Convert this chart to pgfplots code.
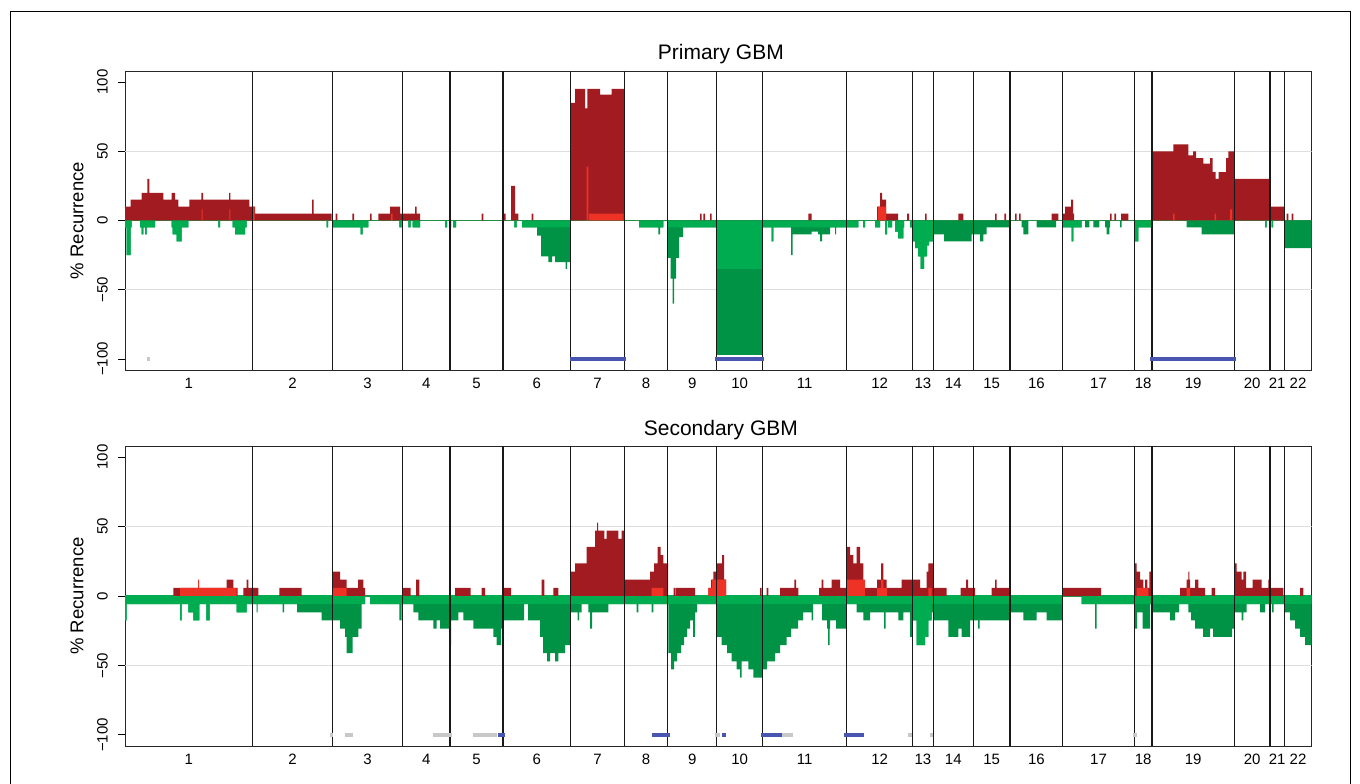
\documentclass[border=0pt]{standalone}
\usepackage{fontspec}
\setmainfont{Liberation Sans}
\usepackage{pgfplots}
\pgfplotsset{compat=1.18}
\definecolor{dred}{RGB}{162,27,32}
\definecolor{lred}{RGB}{238,50,38}
\definecolor{dgreen}{RGB}{0,146,69}
\definecolor{lgreen}{RGB}{0,172,80}
\definecolor{bbar}{RGB}{72,86,178}
\definecolor{gbar}{RGB}{200,200,200}
\definecolor{gridc}{RGB}{222,222,222}
\pgfplotsset{gbm/.style={
  scale only axis, width=1186.7pt, height=299pt,
  xmin=125, xmax=1311.7, ymin=-108, ymax=108,
  axis line style={line width=0.9pt, black!85},
  xtick={188.85,292.5,367.5,426.35,476.5,536.85,597.5,646.05,692.25,739.6,804.6,879.6,922.9,953.3,991.65,1036.35,1098.5,1143.15,1193.15,1252.15,1277.15,1298},
  xticklabels={1,2,3,4,5,6,7,8,9,10,11,12,13,14,15,16,17,18,19,20,21,22},
  xtick style={draw=none},
  ytick={-100,-50,0,50,100}, yticklabels={−100,−50,0,50,100},
  ytick pos=left, xtick pos=bottom, tick align=outside, major tick length=7pt,
  tick style={line width=0.8pt, black},
  tick label style={font=\fontsize{15}{15}\selectfont},
  yticklabel style={rotate=90, anchor=south, inner sep=0pt},
  yticklabel shift=10pt,
  xticklabel style={anchor=north, inner sep=0pt},
  xticklabel shift=1pt,
  ylabel={\% Recurrence},
  ylabel style={at={(axis description cs:-0.0405,0.5)}, anchor=center, font=\fontsize{18.5}{18.5}\selectfont},
  title style={font=\fontsize{21}{21}\selectfont, at={(axis description cs:0.5,1)}, anchor=base, xshift=2.5pt, yshift=6pt},
  unbounded coords=jump,
}}
\begin{document}
\begin{tikzpicture}
\path[use as bounding box] (0,0) rectangle (1360pt,-784pt);
\draw[line width=1pt] (10pt,-790pt) -- (10pt,-12pt) -- (1350pt,-12pt) -- (1350pt,-790pt);
% ---------------- Primary GBM ----------------
\begin{axis}[gbm, at={(125pt,-370pt)}, anchor=south west, title={Primary GBM}]
\addplot[gridc, line width=1pt] coordinates {(125,50)(1311.7,50)(1311.7,nan)(125,-50)(1311.7,-50)};
\addplot[lgreen, line width=1.6pt] coordinates {(125,0)(1311.7,0)};
\addplot[const plot, fill=dred, draw=none] coordinates {(125,0)(125,10)(130.7,15)(141.7,20)(147.3,30)(149.3,20)(163.3,15)(171.7,20)(175,15)(178.3,10)(189.3,15)(201.3,20)(203,15)(229,20)(230.3,15)(249.3,10)(255,5)(312,15)(313.7,5)(331.7,0)(335.7,5)(337.3,0)(352.3,5)(354,0)(370,5)(371.7,0)(378.3,5)(390,10)(400,5)(415,10)(416.7,5)(420,0)(481.7,5)(483.3,0)(504,5)(505.7,0)(511,25)(515,5)(518.3,0)(531.7,5)(533.3,0)(570.7,85)(575,95)(585,81)(587.3,95)(600,91)(611.7,95)(624.3,0)(700,5)(701.7,0)(703.3,5)(705,0)(710,5)(711.7,0)(808.3,5)(811.7,0)(877,10)(880,20)(882,15)(886,5)(898,0)(907,5)(909,0)(925,5)(926.7,0)(958.3,5)(963.3,0)(995,5)(996.7,0)(1004.3,5)(1006,0)(1015,5)(1016.7,0)(1019,5)(1020.7,0)(1051.7,5)(1058.3,0)(1062.7,5)(1065,10)(1071,15)(1073,5)(1074,0)(1110,5)(1111.7,0)(1114.3,5)(1116,0)(1121,5)(1128.3,0)(1152,50)(1173.3,55)(1188.3,47)(1193,50)(1196,45)(1203.3,41)(1210,45)(1212.7,35)(1215.5,30)(1218.5,35)(1226,45)(1228.3,50)(1234.3,30)(1270,10)(1284.3,0)(1286.7,5)(1288.3,0)(1291.7,5)(1293.3,0)(1311.7,0)};
\addplot[const plot, fill=lred, draw=none] coordinates {(125,0)(201.7,8)(202.7,0)(229.3,8)(230.3,0)(252.7,10)(254.5,0)(391,5)(392.5,0)(586.7,39)(588.3,0)(589,5)(623.5,0)(878,10)(886,0)(1173,5)(1174.5,0)(1214.5,5)(1216,0)(1230,8)(1232,0)(1311.7,0)};
\addplot[const plot, fill=dgreen, draw=none] coordinates {(125,0)(125,-5)(126.7,-25)(130.7,-5)(131.7,0)(140,-5)(141.7,-10)(143.3,-5)(145,-10)(146.7,-5)(155,0)(171.7,-5)(172.7,-10)(176.7,-15)(181.7,-5)(188.3,0)(218.3,-5)(220,0)(232.7,-5)(235,-10)(245,-5)(246.7,0)(326.7,-5)(328,0)(332.3,-5)(360.7,-10)(362.7,-5)(368.3,0)(399.3,-5)(401.7,0)(408.3,-5)(410.7,0)(412.7,-5)(420,0)(445,-5)(447,0)(449,-5)(451,0)(453,-5)(456,0)(514.3,-5)(516.7,0)(522,-5)(537,-11)(541,-26)(548.3,-30)(552,-26)(555,-30)(565.5,-35)(567,-30)(570.7,0)(639,-5)(658.3,-10)(660,-5)(663.3,0)(667.3,-27)(670.5,-42)(672.7,-60)(674,-42)(676,-27)(679,-12)(683,-5)(716.7,-97)(762.3,-5)(771.5,-15)(773.3,-5)(791,-25)(792.5,-10)(811.7,-8)(818,-10)(820,-15)(822,-10)(830,-5)(835,-10)(836,-5)(858.3,0)(863,-5)(865,0)(875,-5)(880,0)(885,-10)(887,0)(888,-5)(892,0)(895,-8)(898,-13)(903.3,-5)(904,0)(910,-5)(912.5,-15)(915,-20)(918,-26)(920.5,-35)(924,-26)(927,-18)(929,-15)(933.3,-10)(944,-15)(971.7,-10)(980,-15)(983.3,-10)(986.7,-5)(1009.3,0)(1021.7,-5)(1023.3,-10)(1028.3,0)(1036.7,-5)(1056,0)(1062.7,-5)(1071.7,-15)(1073.3,-5)(1081.7,0)(1085,-5)(1089.3,0)(1093.3,-5)(1099.3,0)(1105,-5)(1106.7,-10)(1109.3,-5)(1110,0)(1120,-5)(1121.7,0)(1134.3,-15)(1138.3,-5)(1151.7,0)(1186.7,-5)(1201.7,-10)(1234.3,0)(1265,-5)(1266.7,0)(1271.7,-5)(1273,0)(1284.3,-20)(1311.7,0)};
\addplot[const plot, fill=lgreen, draw=none] coordinates {(125,0)(125,-5)(126.7,-25)(130.7,-5)(131.7,0)(140,-5)(141.7,-10)(143.3,-5)(145,-10)(146.7,-5)(155,0)(171.7,-5)(172.7,-10)(176.7,-15)(181.7,-5)(188.3,0)(218.3,-5)(220,0)(232.7,-5)(235,-10)(245,-5)(246.7,0)(326.7,-5)(328,0)(332.3,-5)(360.7,-10)(362.7,-5)(368.3,0)(399.3,-5)(401.7,0)(408.3,-5)(410.7,0)(412.7,-5)(420,0)(445,-5)(447,0)(449,-5)(451,0)(453,-5)(456,0)(514.3,-5)(516.7,0)(522,-5)(570.7,0)(639,-5)(663.3,0)(667.3,-5)(716.7,-35)(762.3,-5)(771.5,-15)(773.3,-5)(858.3,0)(863,-5)(865,0)(875,-5)(880,0)(885,-10)(887,0)(888,-5)(892,0)(895,-8)(898,-13)(903.3,-5)(904,0)(910,-5)(912.5,-15)(915,-20)(918,-26)(920.5,-35)(924,-26)(927,-18)(929,-15)(933.3,0)(1062.7,-5)(1071.7,-15)(1073.3,-5)(1081.7,0)(1134.3,-15)(1138.3,-5)(1151.7,0)(1265,-5)(1266.7,0)(1271.7,-5)(1273,0)(1311.7,0)};
\addplot[black!90, line width=1.2pt] coordinates {(252.7,-108)(252.7,108)(252.7,nan)(332.3,-108)(332.3,108)(332.3,nan)(402.7,-108)(402.7,108)(402.7,nan)(450,-108)(450,108)(450,nan)(503,-108)(503,108)(503,nan)(570.7,-108)(570.7,108)(570.7,nan)(624.3,-108)(624.3,108)(624.3,nan)(667.8,-108)(667.8,108)(667.8,nan)(716.7,-108)(716.7,108)(716.7,nan)(762.5,-108)(762.5,108)(762.5,nan)(846.7,-108)(846.7,108)(846.7,nan)(912.5,-108)(912.5,108)(912.5,nan)(933.3,-108)(933.3,108)(933.3,nan)(973.3,-108)(973.3,108)(973.3,nan)(1010,-108)(1010,108)(1010,nan)(1062.7,-108)(1062.7,108)(1062.7,nan)(1134.3,-108)(1134.3,108)(1134.3,nan)(1152,-108)(1152,108)(1152,nan)(1234.3,-108)(1234.3,108)(1234.3,nan)(1270,-108)(1270,108)(1270,nan)(1284.3,-108)(1284.3,108)};
\addplot[gbar, line width=3.5pt] coordinates {(147,-100)(149.5,-100)};
\addplot[bbar, line width=3.5pt] coordinates {(570,-100)(626,-100)(626,nan)(715,-100)(764,-100)(764,nan)(1150,-100)(1236,-100)};
\end{axis}
% ---------------- Secondary GBM ----------------
\begin{axis}[gbm, height=300pt, at={(125pt,-746pt)}, anchor=south west, title={Secondary GBM}, title style={yshift=-1pt}]
\addplot[gridc, line width=1pt] coordinates {(125,50)(1311.7,50)(1311.7,nan)(125,-50)(1311.7,-50)};
\addplot[lgreen, line width=1.6pt] coordinates {(125,0)(1311.7,0)};
\addplot[const plot, fill=dred, draw=none] coordinates {(125,0)(173.3,5.9)(226.7,11.8)(233.3,5.9)(237.5,0)(243.3,5.9)(246.7,11.8)(248.3,5.9)(258.3,0)(279.3,5.9)(301.7,0)(332.3,17.6)(340,11.8)(346.7,5.9)(358,11.8)(363.3,5.9)(365,0)(402.7,5.9)(410.7,0)(416,11.8)(419.3,0)(455,5.9)(470.7,0)(481.7,5.9)(485,0)(503.3,5.9)(511,0)(541.7,11.8)(544.3,0)(553.3,5.9)(558.3,0)(570.7,17.6)(575,23.5)(586.7,35.3)(595,47.1)(597,52.9)(598,47.1)(604.3,41.2)(606.7,47.1)(618.3,41.2)(621.7,47.1)(624.3,11.8)(650,17.6)(654,23.5)(657.7,35.3)(660.7,29.4)(663.3,23.5)(668,0)(673.5,5.9)(675,0)(675.7,5.9)(695,0)(708.3,5.9)(711,11.8)(713.3,17.6)(716.7,23.5)(722,29.4)(724,11.8)(726,0)(760,5.9)(761.7,0)(766.7,5.9)(768.3,0)(780,5.9)(794.3,11.8)(796,5.9)(798.3,0)(819,5.9)(821.7,11.8)(823.3,5.9)(831.7,11.8)(840,5.9)(846.7,35.3)(850,29.4)(853.3,23.5)(856.7,35.3)(860,23.5)(863.3,5.9)(877,11.8)(881,23.5)(883.3,11.8)(886.7,5.9)(901.7,11.8)(920,5.9)(926.7,17.6)(928.3,23.5)(933.3,5.9)(946.7,0)(960.7,5.9)(966,11.8)(968,5.9)(975,0)(991.7,5.9)(995,11.8)(996.7,5.9)(1009.3,0)(1062.7,5.9)(1101,0)(1134.3,23.5)(1136.7,17.6)(1140,11.8)(1143.3,5.9)(1145,11.8)(1147.3,5.9)(1149.3,17.6)(1151.7,0)(1180,5.9)(1186.7,11.8)(1188.3,17.6)(1189.3,11.8)(1190,5.9)(1195,11.8)(1198.3,5.9)(1205,0)(1211.7,5.9)(1215,0)(1234.3,23.5)(1236.7,17.6)(1241.7,11.8)(1243.3,17.6)(1246,5.9)(1252.7,11.8)(1261.7,5.9)(1268.3,11.8)(1270,5.9)(1283.3,0)(1300,5.9)(1303.3,0)(1311.7,0)};
\addplot[const plot, fill=lred, draw=none] coordinates {(125,0)(180,5.9)(198,11.8)(199,5.9)(236.7,0)(332.3,5.9)(346.7,0)(651.7,5.9)(663.3,0)(708.3,5.9)(712,11.8)(726,0)(846.7,11.8)(865,0)(877,5.9)(881,11.8)(883.3,5.9)(887,0)(928.3,5.9)(931.7,0)(1136.7,5.9)(1148.3,0)(1186.7,5.9)(1190,0)(1311.7,0)};
\addplot[const plot, fill=dgreen, draw=none] coordinates {(125,0)(125,-17.6)(126.7,-5.9)(180,-17.6)(181.7,-5.9)(188.3,-11.8)(193.3,-17.6)(199.3,-5.9)(206.3,-17.6)(209.7,-5.9)(236.7,-11.8)(246.7,-5.9)(256.5,-11.8)(257.5,-5.9)(282.7,-11.8)(284,-5.9)(297,-11.8)(321.7,-17.6)(340,-23.5)(345,-29.4)(346.5,-41.2)(352.7,-29.4)(358.3,-23.5)(361.7,-5.9)(365,0)(370,-5.9)(399.3,-17.6)(401.7,-5.9)(413.3,-11.8)(418.3,-17.6)(433.3,-23.5)(436.7,-17.6)(440,-23.5)(449.3,-35.3)(451,-17.6)(458.3,-11.8)(463.3,-17.6)(473.3,-23.5)(493.3,-29.4)(496.7,-35.3)(501,-23.5)(503,-17.6)(524,-5.9)(528,-17.6)(540,-29.4)(543,-41.2)(547,-47.1)(550,-41.2)(555,-47.1)(558.3,-41.2)(565,-35.3)(570.7,-11.8)(577.5,-17.6)(579,-11.8)(581.7,-5.9)(588.3,-11.8)(590,-23.5)(592,-11.8)(608.3,-5.9)(636.7,-11.8)(638.3,-5.9)(651.7,-11.8)(653.3,-5.9)(668.3,-41.2)(671,-52.9)(674,-47.1)(677,-41.2)(681,-35.3)(684,-29.4)(687,-23.5)(690,-17.6)(693,-29.4)(695,-11.8)(697,-5.9)(716.7,-29.4)(721.7,-35.3)(727,-41.2)(731.7,-47.1)(736.7,-52.9)(740,-58.8)(741.7,-47.1)(748.3,-52.9)(753.3,-58.8)(762.3,-52.9)(767,-47.1)(775,-41.2)(780,-35.3)(786.7,-29.4)(791,-23.5)(798,-17.6)(803,-11.8)(811.7,-17.6)(813,-5.9)(822,-17.6)(827,-23.5)(828,-35.3)(829.5,-23.5)(830,-17.6)(836,-23.5)(846.7,-5.9)(856.7,-11.8)(863.3,-17.6)(870,-11.8)(884,-23.5)(885.5,-11.8)(898.3,-17.6)(903.3,-11.8)(910,-29.4)(912,-17.6)(916.7,-35.3)(925,-29.4)(928.3,-17.6)(931.7,-11.8)(933.3,-17.6)(948.3,-29.4)(958.3,-23.5)(961.7,-29.4)(970,-17.6)(978,-23.5)(979.5,-17.6)(1010,-11.8)(1023.3,-17.6)(1036.7,-11.8)(1046.7,-17.6)(1062.7,0)(1081.7,-5.9)(1095,-23.5)(1096.7,-5.9)(1134.3,-23.5)(1137,-11.8)(1142.7,-23.5)(1150,-5.9)(1152,-11.8)(1170,-17.6)(1175,-11.8)(1179,-5.9)(1188.3,-11.8)(1191,-17.6)(1195,-23.5)(1203,-29.4)(1210,-23.5)(1213,-29.4)(1232,-23.5)(1234.3,-11.8)(1241.7,-17.6)(1243.3,-11.8)(1246.7,-5.9)(1260,-11.8)(1265,-5.9)(1272,-11.8)(1273.5,-5.9)(1284.3,-11.8)(1290,-17.6)(1295,-23.5)(1300,-29.4)(1305,-35.3)(1311.7,0)};
\addplot[const plot, fill=lgreen, draw=none] coordinates {(125,0)(125,-17.6)(126.7,-5.9)(180,-17.6)(181.7,-5.9)(188.3,-11.8)(193.3,-17.6)(199.3,-5.9)(206.3,-17.6)(209.7,-5.9)(236.7,-11.8)(246.7,-5.9)(365,0)(370,-5.9)(912,-17.6)(916.7,-35.3)(925,-29.4)(928.3,-17.6)(931.7,-5.9)(1062.7,0)(1081.7,-5.9)(1311.7,0)};
\addplot[black!90, line width=1.2pt] coordinates {(252.7,-108)(252.7,108)(252.7,nan)(332.3,-108)(332.3,108)(332.3,nan)(402.7,-108)(402.7,108)(402.7,nan)(450,-108)(450,108)(450,nan)(503,-108)(503,108)(503,nan)(570.7,-108)(570.7,108)(570.7,nan)(624.3,-108)(624.3,108)(624.3,nan)(667.8,-108)(667.8,108)(667.8,nan)(716.7,-108)(716.7,108)(716.7,nan)(762.5,-108)(762.5,108)(762.5,nan)(846.7,-108)(846.7,108)(846.7,nan)(912.5,-108)(912.5,108)(912.5,nan)(933.3,-108)(933.3,108)(933.3,nan)(973.3,-108)(973.3,108)(973.3,nan)(1010,-108)(1010,108)(1010,nan)(1062.7,-108)(1062.7,108)(1062.7,nan)(1134.3,-108)(1134.3,108)(1134.3,nan)(1152,-108)(1152,108)(1152,nan)(1234.3,-108)(1234.3,108)(1234.3,nan)(1270,-108)(1270,108)(1270,nan)(1284.3,-108)(1284.3,108)};
\addplot[gbar, line width=3.5pt] coordinates {(330,-100)(333,-100)(333,nan)(345,-100)(353,-100)(353,nan)(433,-100)(452,-100)(452,nan)(473,-100)(497,-100)(497,nan)(715,-100)(720,-100)(720,nan)(782,-100)(793,-100)(793,nan)(908,-100)(912,-100)(912,nan)(930,-100)(933,-100)(933,nan)(1133,-100)(1137,-100)};
\addplot[bbar, line width=3.5pt] coordinates {(498,-100)(505,-100)(505,nan)(652,-100)(670,-100)(670,nan)(722,-100)(726,-100)(726,nan)(761,-100)(782,-100)(782,nan)(844,-100)(864,-100)};
\end{axis}
\end{tikzpicture}
\end{document}
